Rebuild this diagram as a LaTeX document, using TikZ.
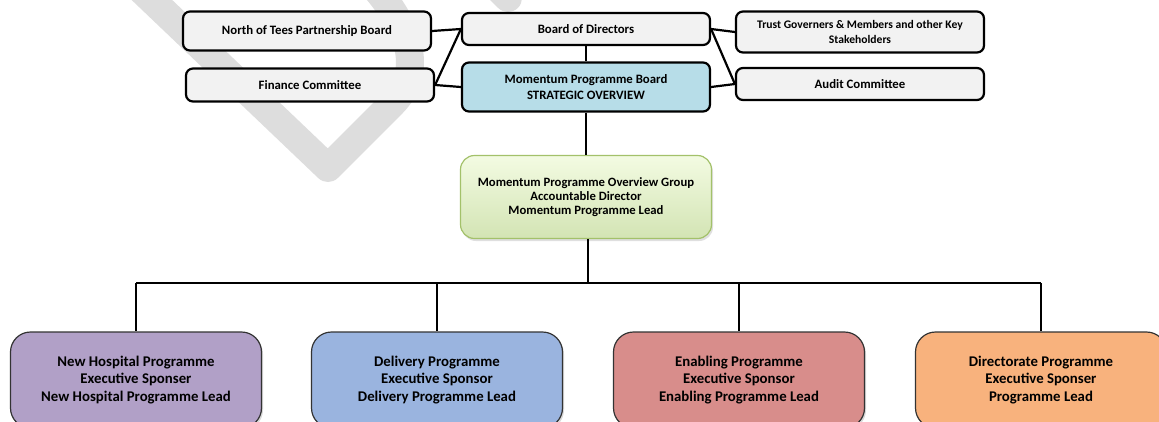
\documentclass[tikz,border=0pt]{standalone}
\usepackage{fontspec}
\setmainfont{Carlito}
\usetikzlibrary{shadows}

\definecolor{boxgrey}{HTML}{F2F2F2}
\definecolor{boardblue}{HTML}{B7DDE8}
\definecolor{groupedge}{HTML}{A3C16A}
\definecolor{grouptop}{HTML}{F3FBE2}
\definecolor{groupbottom}{HTML}{D3E4B4}
\definecolor{progpurple}{HTML}{B1A0C7}
\definecolor{progblue}{HTML}{9AB4DF}
\definecolor{progred}{HTML}{D88D8B}
\definecolor{progorange}{HTML}{F8B27D}
\definecolor{watermark}{HTML}{DDDDDD}

\tikzset{
  topbox/.style={draw, line width=2.2pt, rounded corners=7pt, fill=boxgrey,
    minimum width=248pt, align=center, inner sep=1pt,
    font=\fontsize{12.8}{16}\selectfont\bfseries},
  groupbox/.style={draw=groupedge, line width=1.2pt, rounded corners=14pt,
    top color=grouptop, bottom color=groupbottom,
    minimum width=251pt, minimum height=83pt, align=center,
    drop shadow={opacity=0.25, shadow xshift=1.5pt, shadow yshift=-2.5pt},
    font=\fontsize{12.7}{14.2}\selectfont\bfseries},
  progbox/.style={draw=black!80, line width=1.2pt, rounded corners=20pt,
    minimum width=251pt, minimum height=96pt, align=center,
    drop shadow={opacity=0.3, shadow xshift=1.5pt, shadow yshift=-2pt},
    font=\fontsize{14.8}{17.5}\selectfont\bfseries},
  link/.style={line width=2.2pt}
}

\begin{document}
\begin{tikzpicture}[x=1pt, y=-1pt]
  \fill[white] (0,0) rectangle (1159,421);
  \clip (0,0) rectangle (1159,421);

  % watermark
  \draw[watermark, line width=28pt, line join=round, line cap=round]
    (110,-40) -- (328,168) -- (392,104)
    .. controls (425,71) and (410,25) .. (368,-20);
  \draw[watermark, line width=28pt, line cap=round] (470,-40) -- (508,-2);

  % boards and committees
  \node[topbox, minimum height=39pt] (nt) at (307,31) {North of Tees Partnership Board};
  \node[topbox, minimum height=33pt] (fc) at (310,85) {Finance Committee};
  \node[topbox, minimum height=32pt] (bod) at (586,29) {Board of Directors};
  \node[topbox, minimum height=49pt, fill=boardblue] (mpb) at (586,87)
    {Momentum Programme Board\\STRATEGIC OVERVIEW};
  \node[topbox, minimum height=41pt, font=\fontsize{11.6}{15}\selectfont\bfseries] (tg) at (860,32)
    {Trust Governers \& Members and other Key\\Stakeholders};
  \node[topbox, minimum height=32pt] (ac) at (860,84) {Audit Committee};

  % overview group
  \node[groupbox] (og) at (586,197)
    {Momentum Programme Overview Group\\Accountable Director\\Momentum Programme Lead};
  \coordinate (bus) at (588,283);

  % programmes
  \node[progbox, fill=progpurple] (nh) at (136,380)
    {New Hospital Programme\\Executive Sponser\\New Hospital Programme Lead};
  \node[progbox, fill=progblue] (dp) at (437,380)
    {Delivery Programme\\Executive Sponsor\\Delivery Programme Lead};
  \node[progbox, fill=progred] (ep) at (739,380)
    {Enabling Programme\\Executive Sponsor\\Enabling Programme Lead};
  \node[progbox, fill=progorange] (dir) at (1041,380)
    {Directorate Programme\\Executive Sponser\\Programme Lead};

  \begin{scope}[link]
    \draw (nt.east) -- (bod.west);
    \draw (fc.east) -- (bod.west);
    \draw (fc.east) -- (mpb.west);
    \draw (bod.east) -- (tg.west);
    \draw (bod.east) -- (ac.west);
    \draw (mpb.east) -- (ac.west);
    \draw (bod) -- (mpb);
    \draw (mpb) -- (og);
    \draw (og.south -| bus) -- (bus);
    \draw (nh.north |- bus) -- (dir.north |- bus);
    \draw (nh.north |- bus) -- (nh.north);
    \draw (dp.north |- bus) -- (dp.north);
    \draw (ep.north |- bus) -- (ep.north);
    \draw (dir.north |- bus) -- (dir.north);
  \end{scope}
\end{tikzpicture}
\end{document}
